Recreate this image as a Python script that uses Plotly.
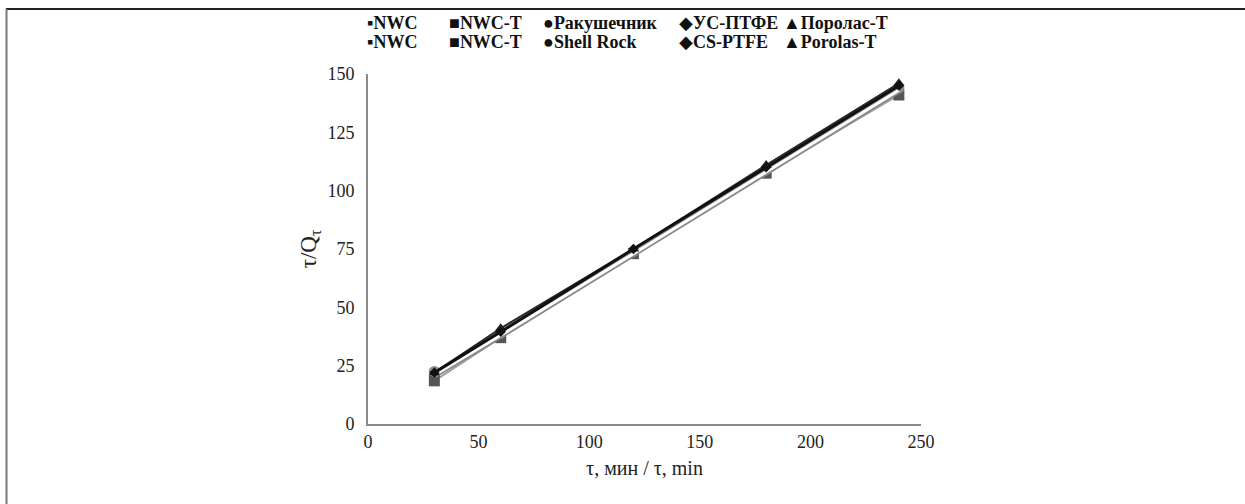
import plotly.graph_objects as go

# ---- data ----
x_time = [30, 60, 120, 180, 240]
nwc = [21.0, 38.0, 73.0, 108.0, 143.0]
nwc_t = [18.5, 37.0, 73.0, 107.5, 141.0]
shell_rock = [22.5, 39.0, 74.0, 109.0, 144.0]
cs_ptfe = [22.0, 39.5, 75.0, 110.0, 145.0]
porolas_t = [22.0, 41.0, 75.0, 111.0, 146.0]

names_ru = ["NWC", "NWC-T", "Ракушечник", "УС-ПТФЕ", "Поролас-Т"]
names_en = ["NWC", "NWC-T", "Shell Rock", "CS-PTFE", "Porolas-T"]
legend_glyphs = ["▪", "■", "●", "◆", "▲"]
x_ticks = [0, 50, 100, 150, 200, 250]
y_ticks = [0, 25, 50, 75, 100, 125, 150]

FONT = "Liberation Serif"

fig = go.Figure()

fig.add_trace(go.Scatter(x=x_time, y=nwc_t, mode="lines+markers",
                         line=dict(color="#a0a0a0", width=2),
                         marker=dict(symbol="square", size=11, color="#555555"),
                         showlegend=False))
fig.add_trace(go.Scatter(x=x_time, y=shell_rock, mode="lines+markers",
                         line=dict(color="#8a8a8a", width=2),
                         marker=dict(symbol="circle", size=11, color="#8a8a8a"),
                         showlegend=False))
# grey "double" line (grey outline with white core)
fig.add_trace(go.Scatter(x=x_time, y=nwc, mode="lines",
                         line=dict(color="#8a8a8a", width=6.5),
                         showlegend=False))
fig.add_trace(go.Scatter(x=x_time, y=nwc, mode="lines",
                         line=dict(color="#ffffff", width=3),
                         showlegend=False))
fig.add_trace(go.Scatter(x=x_time, y=porolas_t, mode="lines+markers",
                         line=dict(color="#2a2a2a", width=2),
                         marker=dict(symbol="triangle-up", size=10, color="#222222"),
                         showlegend=False))
fig.add_trace(go.Scatter(x=x_time, y=cs_ptfe, mode="lines+markers",
                         line=dict(color="#111111", width=3),
                         marker=dict(symbol="diamond", size=8, color="#111111"),
                         showlegend=False))

# plot area geometry (pixels) for paper conversions
L, R, T, B = 368, 921, 74, 424
def px_x(p):
    return (p - L) / (R - L)
def px_y(p):
    return (B - p) / (B - T)

annotations = []
entry_px = [365, 447, 541, 677, 781]
for row_names, ypix in [(names_ru, 23), (names_en, 42)]:
    for g, n, xp in zip(legend_glyphs, row_names, entry_px):
        annotations.append(dict(
            x=px_x(xp), y=px_y(ypix), xref="paper", yref="paper",
            xanchor="left", yanchor="middle", showarrow=False,
            text=f"{g}<b>{n}</b>",
            font=dict(family=FONT, size=18, color="#111111")))

shapes = [
    dict(type="line", xref="paper", yref="paper",
         x0=px_x(6), x1=px_x(1245), y0=px_y(9), y1=px_y(9),
         line=dict(color="#222222", width=2)),
    dict(type="line", xref="paper", yref="paper",
         x0=px_x(6.5), x1=px_x(6.5), y0=px_y(9), y1=px_y(504),
         line=dict(color="#777777", width=2)),
]

fig.update_layout(
    width=1245, height=504,
    margin=dict(l=L, r=1245 - R, t=T, b=504 - B),
    paper_bgcolor="white", plot_bgcolor="white",
    font=dict(family=FONT, size=17, color="#222222"),
    annotations=annotations, shapes=shapes,
    xaxis=dict(range=[0, 250], tickvals=x_ticks, showgrid=False, zeroline=False,
               showline=True, linecolor="#8a8a8a", linewidth=2, ticks="",
               tickfont=dict(family=FONT, size=18, color="#222222"),
               title=dict(text="τ, мин / τ, min", font=dict(family=FONT, size=20),
                          standoff=10)),
    yaxis=dict(range=[0, 150], tickvals=y_ticks, showgrid=False, zeroline=False,
               showline=True, linecolor="#8a8a8a", linewidth=2, ticks="",
               ticklabelstandoff=8,
               tickfont=dict(family=FONT, size=18, color="#222222"),
               title=dict(text="τ/Q<sub>τ</sub>", font=dict(family=FONT, size=23),
                          standoff=4)),
)

fig.write_html("out.html")
